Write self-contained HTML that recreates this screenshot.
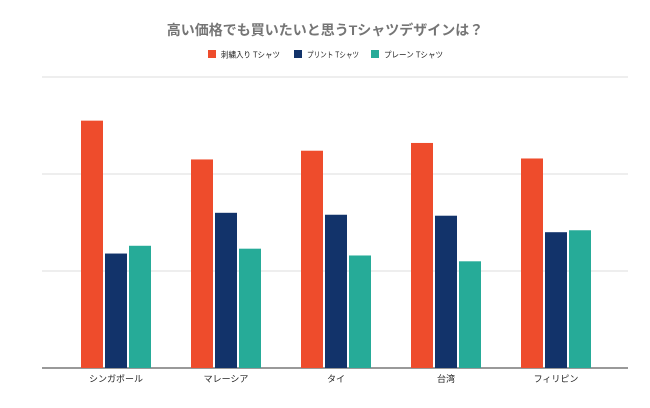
<!DOCTYPE html>
<html><head><meta charset="utf-8">
<style>
body{margin:0;background:#fff;width:650px;height:403px;overflow:hidden;font-family:"Liberation Sans","Noto Sans CJK JP",sans-serif;}
</style></head>
<body>
<svg id="chart" width="650" height="403" xmlns="http://www.w3.org/2000/svg">
<text x="325" y="35" text-anchor="middle" font-size="14" font-weight="bold" fill="#757575" font-family="Liberation Sans, Noto Sans CJK JP, sans-serif">高い価格でも買いたいと思うTシャツデザインは？</text>
<g id="legend" font-size="8" fill="#222" font-family="Liberation Sans, Noto Sans CJK JP, sans-serif"></g>
<g id="grid"></g>
<g id="bars"></g>
<g id="xlabels" font-size="9" fill="#222" font-family="Liberation Sans, Noto Sans CJK JP, sans-serif"></g>
</svg>
<script>
const categories=["シンガポール","マレーシア","タイ","台湾","フィリピン"];
const seriesNames=["刺繍入り Tシャツ","プリント Tシャツ","プレーン Tシャツ"];
const embroidered=[2.55,2.15,2.24,2.32,2.16];
const printed=[1.18,1.60,1.58,1.57,1.40];
const plain=[1.26,1.23,1.16,1.10,1.42];
const gridTicks=[0,1,2,3];
const colors=["#ee4c2c","#12336a","#26ab98"];
const NS="http://www.w3.org/2000/svg";
const series=[embroidered,printed,plain];
const y0=368,unit=97,left=61,band=110,bw=22,gap=2;
const y=v=>y0-v*unit;
const xc=i=>left+band*(i+0.5);
function mk(t,a,p){const e=document.createElementNS(NS,t);for(const k in a)e.setAttribute(k,a[k]);p.appendChild(e);return e;}
const grid=document.getElementById('grid');
gridTicks.forEach(t=>{
  const l=mk('line',{x1:42,x2:628,y1:y(t),y2:y(t),stroke:t===0?'#333':'#ddd','stroke-width':1},grid);
  
  
});
const bars=document.getElementById('bars');
categories.forEach((c,i)=>{
  series.forEach((s,j)=>{
    const x=xc(i)+(j-1)*(bw+gap)-bw/2;
    const r=mk('rect',{x:x,y:y(s[i]),width:bw,height:y0-y(s[i]),fill:colors[j]},bars);
    
    
  });
});
const xl=document.getElementById('xlabels');
categories.forEach((c,i)=>{
  const t=mk('text',{x:xc(i),y:382,'text-anchor':'middle'},xl);
  t.textContent=c;
  
  
});
const lg=document.getElementById('legend');
const lx=[208,294,371];
const lw=[59,52,59];
seriesNames.forEach((n,j)=>{
  const r=mk('rect',{x:lx[j],y:50,width:8,height:8,fill:colors[j]},lg);
  
  
  const t=mk('text',{x:lx[j]+13,y:57.5,textLength:lw[j],lengthAdjust:'spacingAndGlyphs'},lg);
  t.textContent=n;
  
  
});
</script>
</body></html>
